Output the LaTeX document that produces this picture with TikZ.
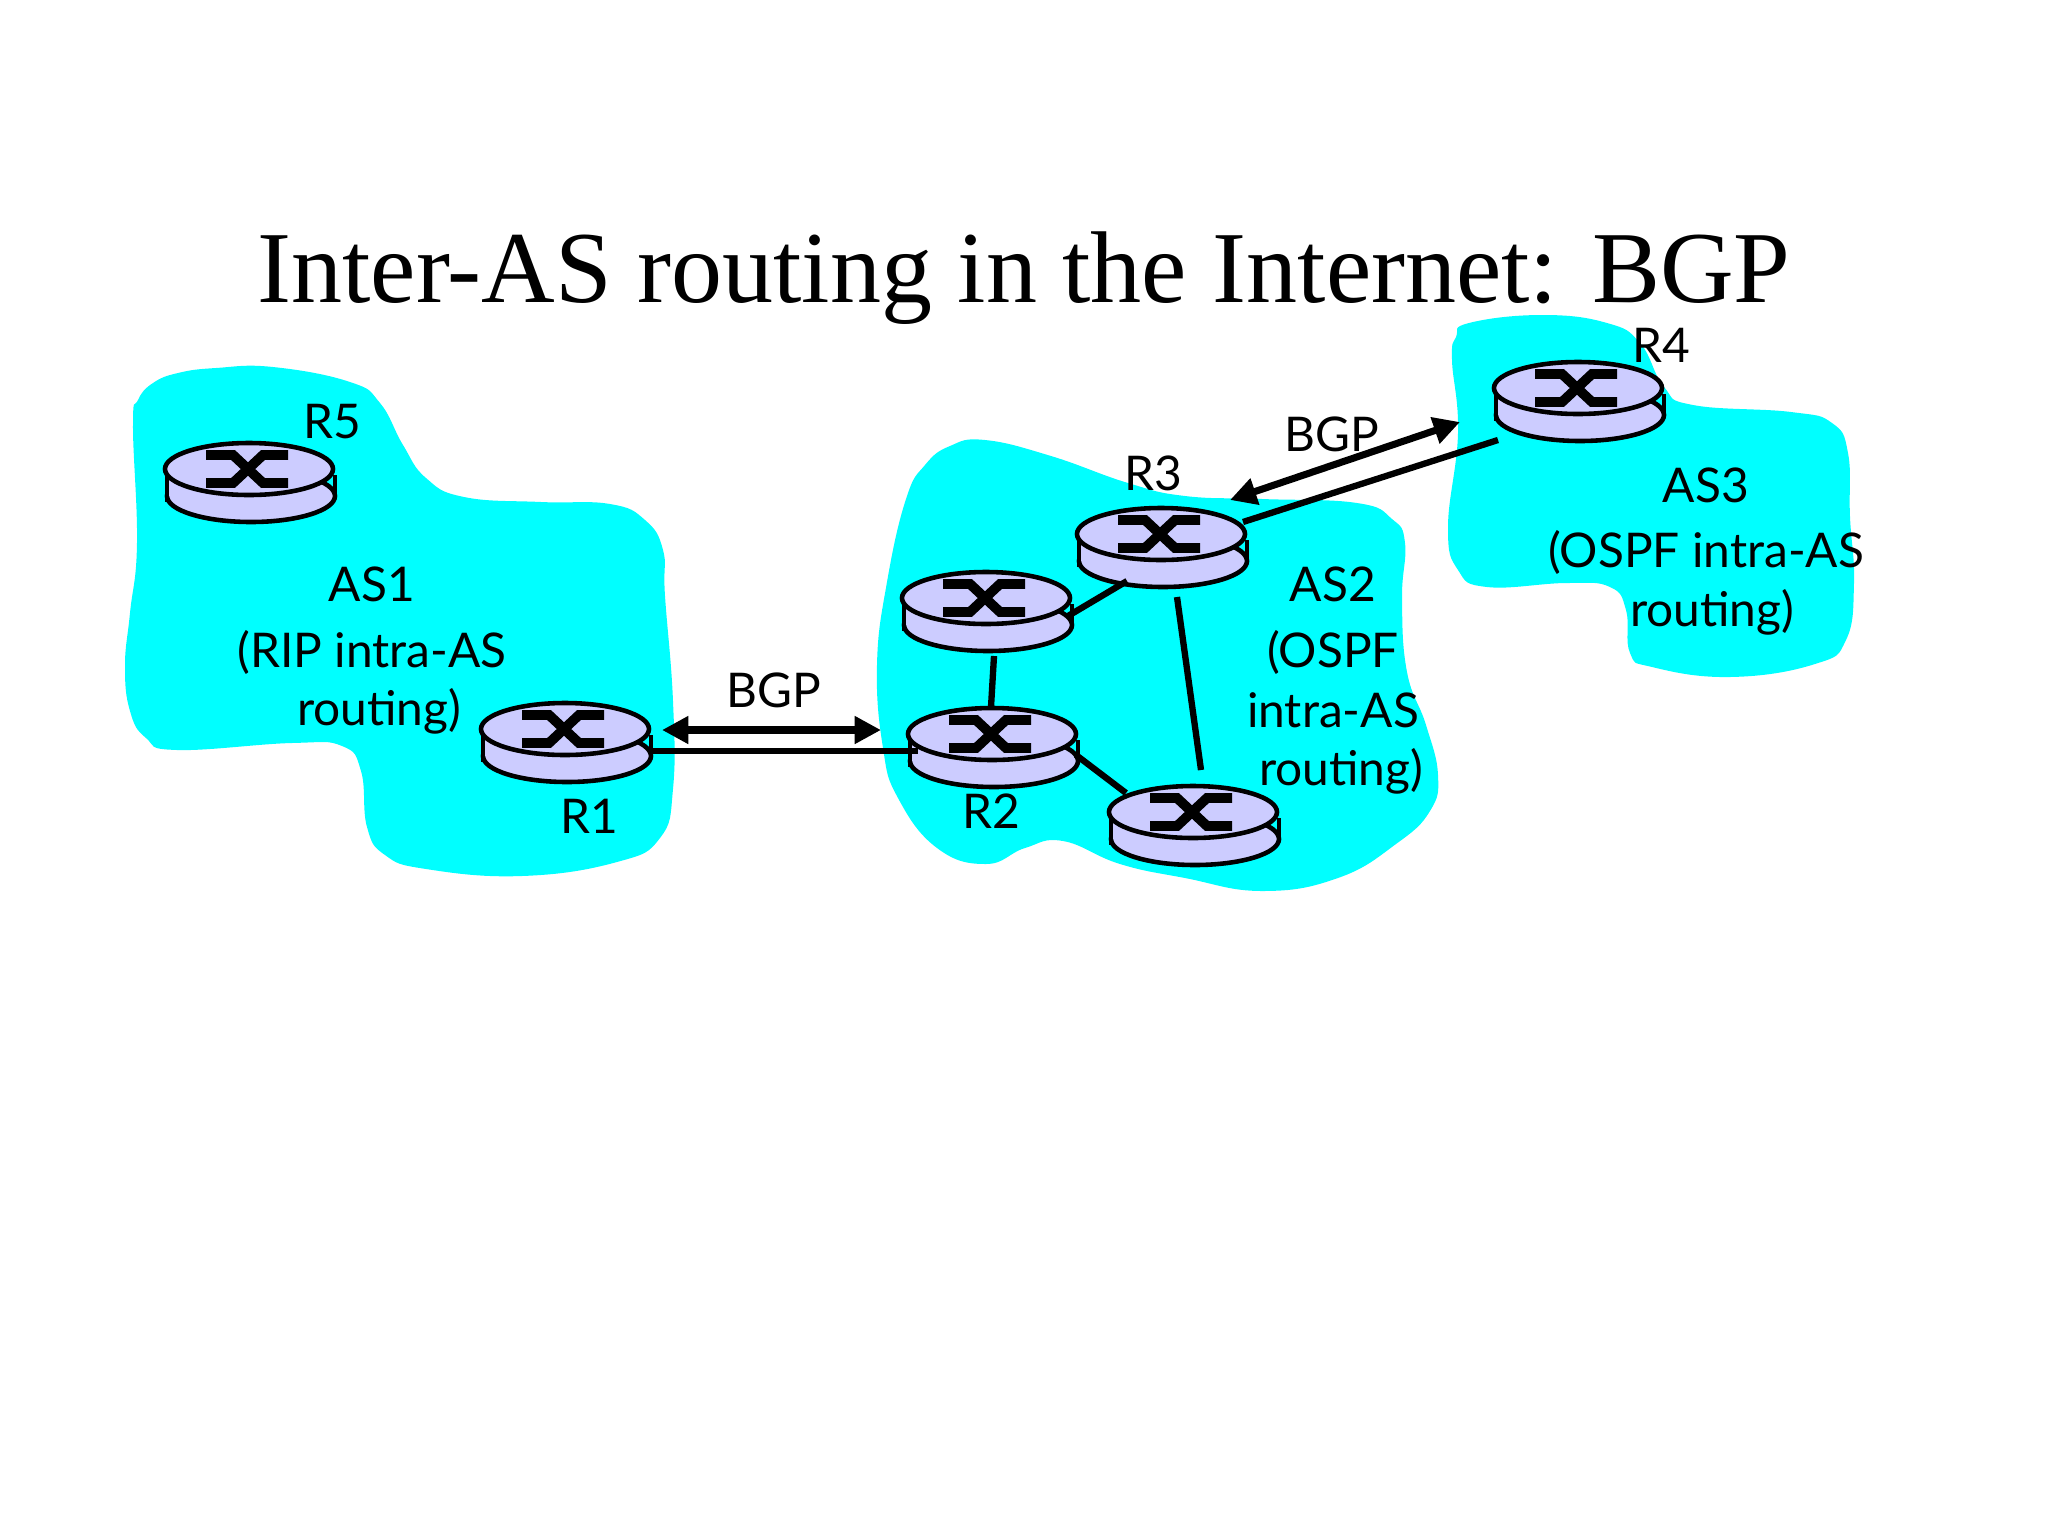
\documentclass[tikz,border=0pt]{standalone}
\usepackage{fontspec}
\usepackage{xcolor}
\usetikzlibrary{arrows.meta}
\setmainfont{Liberation Serif}
\newfontfamily\labelfont{Lato}
\definecolor{ascyan}{HTML}{00FFFF}
\definecolor{routerblue}{HTML}{CCCCFF}

\begin{document}
\begin{tikzpicture}[x=0.01cm,y=-0.01cm,
    asblob/.style={fill=ascyan, draw=none},
    routerbox/.style={rectangle, minimum width=168pt*0.2845, minimum height=80pt*0.2845, inner sep=0pt},
    routerline/.style={draw=black, line width=1.3pt},
    routercross/.style={draw=black, line width=2.8pt},
    link/.style={draw=black, line width=1.8pt},
    bgparrow/.style={draw=black, line width=2pt, {Triangle[length=7.5pt,width=7.5pt]}-{Triangle[length=7.5pt,width=7.5pt]}},
    txt/.style={font=\labelfont\fontsize{13.6}{16}\selectfont, inner sep=0pt, text=black}]
    \useasboundingbox (0,0) rectangle (2048,1536);

    % Title
    \node[font=\fontsize{29}{32}\selectfont, inner sep=0pt, anchor=base] (title) at (1024,302) {Inter-AS routing in the Internet: BGP};

    % Autonomous systems
    \fill[asblob] plot[smooth cycle, tension=0.75] coordinates {(178,373) (216,368) (273,367) (350,382) (380,403) (403,445) (426,478) (464,497) (541,502) (610,504) (645,520) (663,550) (665,596) (673,701) (673,789) (660,838) (617,862) (522,876) (426,869) (385,855) (367,827) (361,771) (342,746) (292,743) (177,750) (146,738) (130,711) (125,666) (130,613) (137,543) (133,425) (138,400) (153,383)};
    \fill[asblob] plot[smooth cycle, tension=0.75] coordinates {(985,440) (1051,456) (1128,483) (1185,496) (1262,499) (1357,503) (1392,519) (1405,543) (1402,599) (1407,672) (1426,725) (1438,775) (1430,811) (1396,844) (1338,878) (1262,891) (1185,878) (1120,864) (1063,841) (1025,848) (986,864) (937,848) (898,798) (883,748) (877,665) (887,582) (906,499) (925,465) (950,446)};
    \fill[asblob] plot[smooth cycle, tension=0.75] coordinates {(1469,323) (1542,315) (1607,323) (1640,343) (1664,387) (1693,405) (1791,412) (1832,423) (1848,453) (1850,517) (1854,583) (1846,640) (1815,664) (1730,677) (1652,667) (1630,653) (1626,610) (1610,587) (1567,583) (1487,587) (1458,570) (1448,527) (1458,433) (1452,360) (1456,337)};

    % Routers
    \foreach \name/\x/\y in {r5/249/469, r1/565/729, r2/992/734, rleft/986/598, r3/1161/534, rbottom/1193/812, r4/1578/388} {
        \node[routerbox] (\name) at (\x,\y) {};
        \begin{scope}[shift={(\x,\y)}]
            \draw[routerline, fill=routerblue] (2,27) ellipse [x radius=84, y radius=26];
            \fill[routerblue] (-82,3) rectangle (-20,27);
            \draw[routerline] (-82,3) -- (-82,33);
            \draw[routerline] (86,6) -- (86,30);
            \draw[routerline, fill=routerblue] (0,0) ellipse [x radius=84, y radius=26];
            \draw[routercross] (-43,-14) -- (-16,-14) -- (14,14) -- (39,14);
            \draw[routercross] (-43,14) -- (-16,14) -- (14,-14) -- (39,-14);
        \end{scope}
    }

    % Links inside AS2
    \draw[link] ([shift={(82,18)}]rleft.center) -- ([shift={(-34,47)}]r3.center);
    \draw[link] ([shift={(8,58)}]rleft.center) -- ([shift={(-1,-27)}]r2.center);
    \draw[link] ([shift={(84,21)}]r2.center) -- ([shift={(-67,-19)}]rbottom.center);
    \draw[link] ([shift={(16,63)}]r3.center) -- ([shift={(8,-42)}]rbottom.center);

    % Links between the systems
    \draw[link] ([shift={(84,22)}]r1.center) -- ([shift={(-74,17)}]r2.center);
    \draw[link] ([shift={(82,-12)}]r3.center) -- ([shift={(-80,52)}]r4.center);

    % BGP sessions
    \draw[bgparrow] ([shift={(97,1)}]r1.center) -- ([shift={(-111,-4)}]r2.center);
    \draw[bgparrow] ([shift={(69,-34)}]r3.center) -- ([shift={(-118,34)}]r4.center);

    % Router labels
    \foreach \name/\x/\y/\label in {lr5/332/422/R5, lr1/589/816/R1, lr2/991/811/R2, lr3/1153/473/R3, lr4/1661/345/R4, lbgpa/774/690/BGP, lbgpb/1332/434/BGP}
        \node[txt] (\name) at (\x,\y) {\label};

    % AS labels
    \foreach \name/\x/\y/\label in {las1/372/584/AS1, lripa/372/652/(RIP intra-AS, lripb/379/711/routing), las2/1333/584/AS2, lospa/1333/652/(OSPF, lospb/1333/710/intra-AS, lospc/1341/771/routing), las3/1706/485/AS3, lospd/1706/552/(OSPF intra-AS, lospe/1712/612/routing)}
        \node[txt] (\name) at (\x,\y) {\label};
\end{tikzpicture}
\end{document}
